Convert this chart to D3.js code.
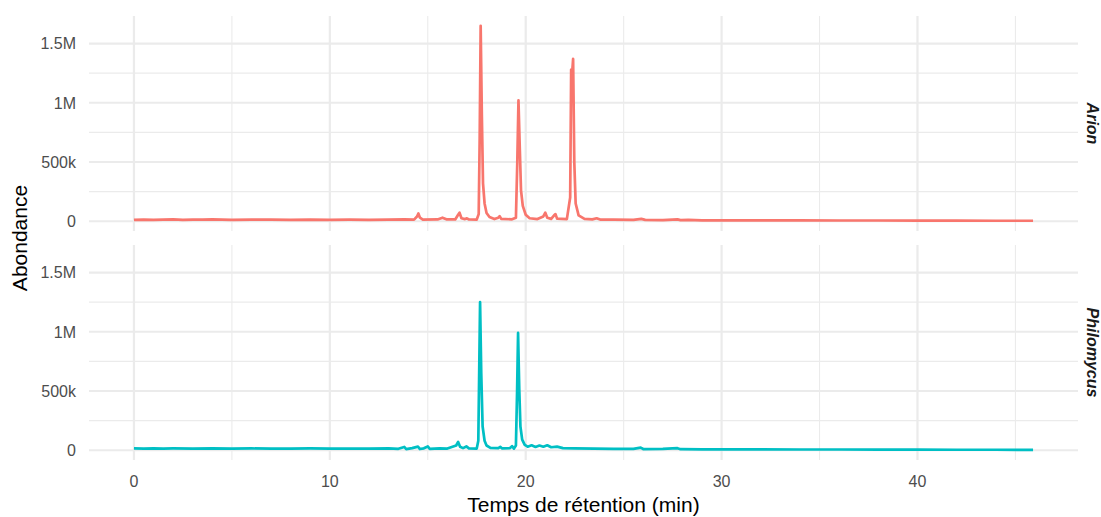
<!DOCTYPE html>
<meta charset="utf-8">
<style>
body { margin: 0; background: #fff; }
text { font-family: "Liberation Sans", Arial, sans-serif; }
.grid line { stroke: #EBEBEB; }
.tick-label { fill: #4D4D4D; font-size: 16px; }
.strip { fill: #1A1A1A; font-size: 16px; font-weight: bold; font-style: italic; }
.title { fill: #000; font-size: 21px; }
</style>
<svg width="1101" height="517"></svg>
<script src="https://d3js.org/d3.v7.min.js"></script>
<script>
// facets and colours
var species = ["Arion", "Philomycus"];
var colors = ["#F8766D", "#00BFC4"];

// retention time (min) and abundance
var arionTime = [0, 0.5, 1, 1.5, 2, 2.5, 3, 3.5, 4, 5, 6, 7, 8, 9, 10, 11, 12, 13, 13.8, 14.3,
  14.45, 14.52, 14.6, 14.75, 15.5, 15.75, 15.95, 16.4, 16.55, 16.62, 16.72, 16.9, 17, 17.1, 17.5,
  17.6, 17.65, 17.7, 17.76, 17.82, 17.9, 18, 18.15, 18.4, 18.6, 18.67, 18.75, 19.3, 19.5, 19.57,
  19.63, 19.7, 19.76, 19.85, 20, 20.2, 20.6, 20.9, 21, 21.1, 21.3, 21.45, 21.52, 21.6, 22.1,
  22.27, 22.32, 22.37, 22.42, 22.48, 22.55, 22.7, 23, 23.4, 23.62, 23.8, 24.5, 25.5, 25.9, 26.1,
  27, 27.75, 27.9, 28.3, 29, 30, 32, 34, 36, 38, 40, 42, 44, 45.9];
var arionAbund = [12000, 14000, 11000, 13000, 15000, 12000, 14000, 13000, 15000, 12000, 14000,
  13000, 12000, 14000, 12000, 13000, 11000, 13000, 15000, 14000,
  40000, 65000, 30000, 14000, 15000, 30000, 16000, 15000, 55000, 72000, 25000, 18000, 24000, 15000, 14000,
  60000, 700000, 1650000, 900000, 320000, 150000, 70000, 35000, 18000, 30000, 42000, 20000, 16000, 30000, 500000,
  1020000, 600000, 260000, 130000, 55000, 25000, 18000, 40000, 72000, 30000, 20000, 50000, 60000, 22000, 18000,
  200000, 1280000, 1250000, 1370000, 500000, 150000, 50000, 20000, 16000, 25000, 14000, 13000, 12000, 20000, 11000,
  10000, 16000, 9000, 12000, 8000, 8000, 7000, 7000, 6000, 6000, 5000, 5000, 4000, 4000];

var philoTime = [0, 0.5, 1, 1.5, 2, 3, 4, 5, 6, 7, 8, 9, 10, 11, 12, 13, 13.5, 13.8, 13.9, 14.2,
  14.5, 14.6, 14.8, 15, 15.1, 15.6, 16, 16.45, 16.55, 16.65, 16.8, 16.97, 17.1, 17.5, 17.58,
  17.62, 17.67, 17.73, 17.8, 17.9, 18, 18.2, 18.6, 18.7, 18.8, 19.2, 19.3, 19.4, 19.5, 19.56,
  19.61, 19.67, 19.73, 19.82, 19.95, 20.1, 20.3, 20.5, 20.7, 20.9, 21.1, 21.3, 21.6, 21.9, 22.5,
  23.5, 24.5, 25.5, 25.87, 26, 27, 27.75, 27.9, 29, 30, 32, 34, 36, 38, 40, 42, 44, 45.9];
var philoAbund = [15000, 13000, 16000, 14000, 15000, 14000, 16000, 13000, 15000, 14000, 13000,
  15000, 14000, 13000, 14000, 15000, 12000, 28000, 10000, 18000,
  30000, 10000, 16000, 32000, 12000, 16000, 14000, 40000, 70000, 30000, 18000, 32000, 16000, 14000, 80000,
  600000, 1250000, 650000, 200000, 80000, 40000, 20000, 18000, 28000, 15000, 18000, 35000, 14000, 40000, 500000,
  990000, 520000, 200000, 90000, 45000, 30000, 42000, 28000, 40000, 30000, 42000, 25000, 30000, 18000, 15000,
  13000, 12000, 11000, 22000, 10000, 11000, 17000, 9000, 8000, 7000, 7000, 6000, 6000, 5000, 5000, 4000, 4000, 3000];

var xTicks = [0, 10, 20, 30, 40];
var xMinor = [5, 15, 25, 35, 45];
var yTicks = [0, 500000, 1000000, 1500000];
var yTickLabels = ["0", "500k", "1M", "1.5M"];
var yMinor = [250000, 750000, 1250000];

var traces = [
  arionTime.map(function(t, i) { return [t, arionAbund[i]]; }),
  philoTime.map(function(t, i) { return [t, philoAbund[i]]; })
];

var svg = d3.select("svg");
var left = 89, right = 1078;
var panels = [{top: 16, bottom: 231}, {top: 245, bottom: 460}];

// shared x scale, with ggplot-like 5% expansion
var xMax = 45.9, xPad = xMax * 0.05;
var x = d3.scaleLinear().domain([-xPad, xMax + xPad]).range([left, right]);

var yMax = d3.max(arionAbund.concat(philoAbund)), yPad = yMax * 0.05;

panels.forEach(function(p, k) {
  var y = d3.scaleLinear().domain([-yPad, yMax + yPad]).range([p.bottom, p.top]);
  var g = svg.append("g").attr("class", "grid");

  g.selectAll(".ymin").data(yMinor).enter().append("line")
      .attr("x1", left).attr("x2", right)
      .attr("y1", function(d) { return y(d); }).attr("y2", function(d) { return y(d); })
      .attr("stroke-width", 1.1);
  g.selectAll(".xmin").data(xMinor).enter().append("line")
      .attr("y1", p.top).attr("y2", p.bottom)
      .attr("x1", function(d) { return x(d); }).attr("x2", function(d) { return x(d); })
      .attr("stroke-width", 1.1);
  g.selectAll(".ymaj").data(yTicks).enter().append("line")
      .attr("x1", left).attr("x2", right)
      .attr("y1", function(d) { return y(d); }).attr("y2", function(d) { return y(d); })
      .attr("stroke-width", 2.2);
  g.selectAll(".xmaj").data(xTicks).enter().append("line")
      .attr("y1", p.top).attr("y2", p.bottom)
      .attr("x1", function(d) { return x(d); }).attr("x2", function(d) { return x(d); })
      .attr("stroke-width", 2.2);

  // y tick labels
  svg.append("g").selectAll("text").data(yTicks).enter().append("text")
      .attr("class", "tick-label")
      .attr("x", 76)
      .attr("y", function(d) { return y(d); })
      .attr("dy", "0.36em")
      .attr("text-anchor", "end")
      .text(function(d, i) { return yTickLabels[i]; });

  // chromatogram
  var line = d3.line()
      .x(function(d) { return x(d[0]); })
      .y(function(d) { return y(d[1]); });
  svg.append("path")
      .datum(traces[k])
      .attr("fill", "none")
      .attr("stroke", colors[k])
      .attr("stroke-width", 2.7)
      .attr("stroke-linejoin", "round")
      .attr("d", line);

  // facet strip label
  var cy = (p.top + p.bottom) / 2;
  svg.append("text")
      .attr("class", "strip")
      .attr("transform", "translate(1087," + cy + ") rotate(90)")
      .attr("text-anchor", "middle")
      .text(species[k]);
});

// x tick labels
svg.append("g").selectAll("text").data(xTicks).enter().append("text")
    .attr("class", "tick-label")
    .attr("x", function(d) { return x(d); })
    .attr("y", 486.5)
    .attr("text-anchor", "middle")
    .text(function(d) { return d; });

// axis titles
svg.append("text")
    .attr("class", "title")
    .attr("x", (left + right) / 2)
    .attr("y", 512)
    .attr("text-anchor", "middle")
    .text("Temps de rétention (min)");

svg.append("text")
    .attr("class", "title")
    .attr("transform", "translate(27,238) rotate(-90)")
    .attr("text-anchor", "middle")
    .text("Abondance");
</script>
